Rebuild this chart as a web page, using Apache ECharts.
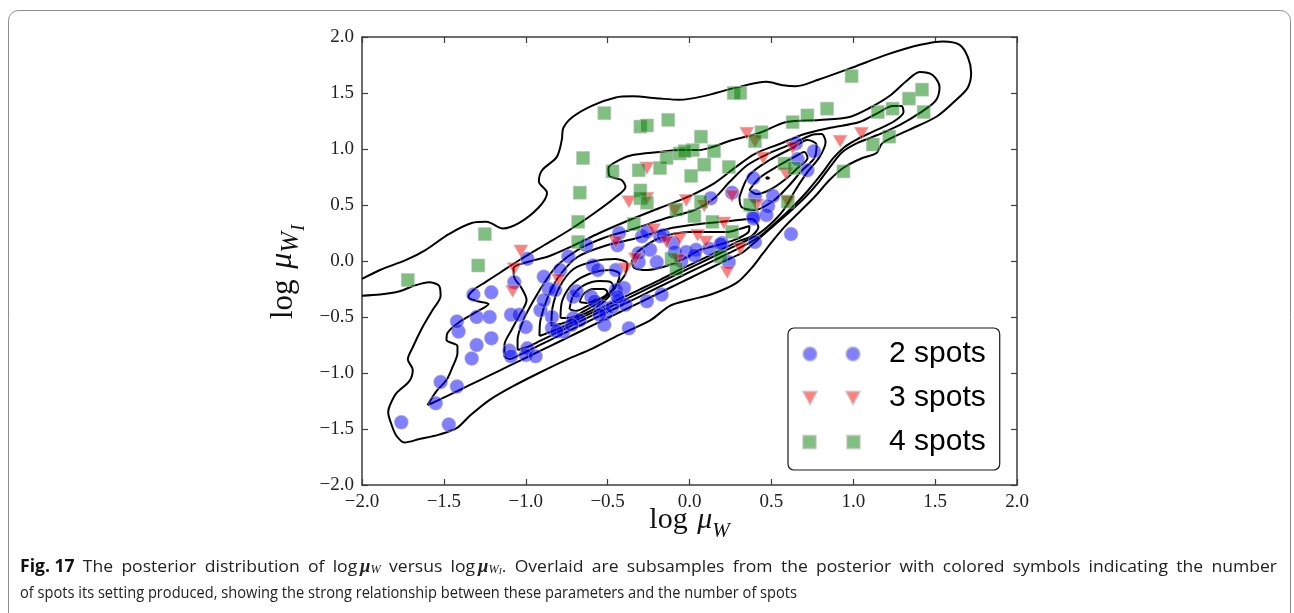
<!DOCTYPE html>
<html>
<head>
<meta charset="utf-8">
<title>Posterior of log mu_W vs log mu_WI</title>
<script src="https://cdn.jsdelivr.net/npm/echarts/dist/echarts.min.js"></script>
<style>
  html, body { margin: 0; padding: 0; background: #fff; }
  #chart { width: 1294px; height: 613px; }
</style>
</head>
<body>
<div id="chart"></div>
<script>
// ---- axis setup ----
const axisMin = -2.0;
const axisMax = 2.0;
const axisStep = 0.5;

// ---- subsamples from the posterior, grouped by number of spots ----
const spots2 = [
  [-1.76,-1.44],[-1.47,-1.46],[-1.55,-1.27],[-1.52,-1.08],[-1.42,-1.12],[-1.33,-0.87],[-1.30,-0.75],
  [-1.21,-0.69],[-1.41,-0.63],[-1.42,-0.54],[-1.30,-0.50],[-1.22,-0.50],[-1.32,-0.30],[-1.21,-0.28],
  [-1.09,-0.48],[-1.04,-0.48],[-1.07,-0.19],[-0.99,0.02],[-1.00,-0.59],[-1.10,-0.80],[-1.09,-0.85],
  [-0.99,-0.78],[-1.00,-0.84],[-0.94,-0.85],[-0.91,-0.44],[-0.86,-0.25],[-0.84,-0.50],[-0.84,-0.60],
  [-0.79,-0.08],[-0.74,0.04],[-0.77,-0.63],[-0.71,-0.32],[-0.69,-0.27],[-0.71,-0.51],[-0.67,-0.53],
  [-0.63,0.14],[-0.59,-0.04],[-0.56,-0.08],[-0.60,-0.32],[-0.58,-0.36],[-0.53,-0.41],[-0.51,-0.47],
  [-0.45,-0.08],[-0.45,-0.26],[-0.43,-0.35],[-0.39,-0.39],[-0.37,-0.60],[-0.44,0.14],[-0.43,0.25],
  [-0.26,-0.36],[-0.17,-0.30],[-0.31,-0.01],[-0.29,0.22],[-0.24,0.10],[-0.18,0.22],[-0.20,-0.01],
  [-0.89,-0.35],[-0.81,-0.63],[-0.72,-0.57],[-0.52,-0.57],[-0.47,-0.41],[-0.55,-0.48],[-0.40,-0.24],
  [-0.44,-0.32],[-0.31,0.07],[-0.26,0.26],[-0.16,0.23],[-0.10,0.16],[-0.09,0.08],[-0.02,0.08],
  [0.04,0.10],[0.12,0.11],[0.20,0.16],[0.24,-0.01],[0.39,0.40],[0.65,1.05],[0.76,0.98],[0.66,0.91],
  [0.72,0.81],[0.39,0.74],[0.51,0.58],[0.40,0.58],[0.48,0.49],[0.47,0.41],[0.39,0.38],[0.26,0.61],
  [0.62,0.24],[0.40,0.17],[0.13,0.56],[0.19,0.15],[-0.89,-0.14],[-0.82,-0.26],[-0.05,0.00],[0.03,0.05]
];
const spots3 = [
  [-1.03,0.09],[-1.07,-0.07],[-1.08,-0.27],[-0.80,-0.17],[-0.39,-0.07],[-0.45,0.17],[-0.37,0.53],
  [-0.26,0.56],[-0.02,0.54],[0.09,0.49],[-0.09,0.45],[0.26,0.58],[-0.22,0.28],[-0.33,0.02],
  [-0.06,0.20],[-0.14,0.17],[0.05,0.23],[0.10,0.17],[0.21,0.34],[0.31,0.11],[0.23,-0.10],
  [-0.07,0.01],[-0.26,0.83],[0.35,1.14],[0.40,1.07],[0.45,0.92],[0.63,1.01],[0.59,0.78],
  [0.41,0.50],[0.60,0.53],[0.92,1.07],[1.05,1.14]
];
const spots4 = [
  [-1.72,-0.17],[-1.29,-0.04],[-1.25,0.24],[-0.68,0.17],[-0.68,0.35],[-0.67,0.61],[-0.65,0.92],
  [-0.52,1.32],[-0.30,1.20],[-0.26,1.21],[-0.13,1.26],[-0.47,0.80],[-0.31,0.81],[-0.18,0.83],
  [-0.14,0.92],[-0.30,0.63],[-0.30,0.56],[-0.34,0.33],[-0.06,0.96],[-0.08,0.46],[0.07,1.11],
  [0.02,0.99],[-0.03,0.98],[0.15,0.98],[0.09,0.86],[0.24,0.84],[0.01,0.76],[0.27,1.50],[0.31,1.50],
  [0.44,1.15],[0.40,1.07],[0.63,1.24],[0.72,1.30],[0.84,1.36],[0.99,1.65],[1.15,1.33],[1.24,1.36],
  [1.34,1.45],[1.42,1.53],[1.43,1.33],[1.22,1.11],[1.12,1.04],[0.94,0.80],[0.58,0.87],[0.64,0.83],
  [0.37,0.50],[0.60,0.53],[0.07,0.53],[0.03,0.40],[0.14,0.35],[0.26,0.26],[0.19,0.04],[-0.11,0.02],
  [-0.08,-0.07],[-0.26,0.52]
];

// ---- density contours of the full posterior ----
// outermost level runs off the left edge, so it stays open
const contourOuter = [
  [-2.0,-0.16],[-1.89,-0.08],[-1.73,0.01],[-1.61,0.10],[-1.47,0.24],[-1.33,0.34],[-1.24,0.35],
  [-1.14,0.29],[-1.04,0.34],[-0.92,0.48],[-0.87,0.61],[-0.92,0.71],[-0.90,0.81],[-0.81,0.93],
  [-0.78,1.08],[-0.77,1.19],[-0.71,1.29],[-0.59,1.39],[-0.45,1.46],[-0.35,1.47],[-0.18,1.45],
  [-0.06,1.44],[0.08,1.47],[0.29,1.55],[0.47,1.60],[0.57,1.57],[0.65,1.56],[0.79,1.62],[1.00,1.73],
  [1.20,1.84],[1.41,1.93],[1.55,1.96],[1.65,1.93],[1.70,1.82],[1.72,1.68],[1.70,1.55],[1.63,1.44],
  [1.51,1.29],[1.34,1.17],[1.179,1.054],[1.142,0.964],[1.056,0.920],[0.947,0.839],[0.855,0.723],
  [0.769,0.580],[0.672,0.438],[0.586,0.313],[0.513,0.188],[0.446,0.063],[0.379,-0.063],
  [0.287,-0.196],[0.140,-0.295],[0.0,-0.348],[-0.12,-0.40],[-0.24,-0.53],[-0.43,-0.66],[-0.59,-0.78],
  [-0.75,-0.88],[-0.92,-1.0],[-1.08,-1.12],[-1.22,-1.24],[-1.34,-1.38],[-1.42,-1.49],[-1.53,-1.55],
  [-1.65,-1.59],[-1.74,-1.62],[-1.79,-1.56],[-1.82,-1.46],[-1.84,-1.35],[-1.83,-1.29],[-1.79,-1.18],
  [-1.71,-1.07],[-1.69,-0.97],[-1.72,-0.88],[-1.69,-0.77],[-1.63,-0.59],[-1.57,-0.44],[-1.52,-0.31],
  [-1.53,-0.22],[-1.59,-0.19],[-1.68,-0.22],[-1.77,-0.27],[-1.89,-0.30],[-2.0,-0.31]
];
const contour2 = [
  [-1.600,-1.286],[-1.545,-1.161],[-1.484,-1.063],[-1.447,-0.946],[-1.417,-0.821],[-1.417,-0.759],
  [-1.484,-0.705],[-1.478,-0.643],[-1.405,-0.545],[-1.301,-0.455],[-1.227,-0.384],[-1.301,-0.357],
  [-1.350,-0.321],[-1.319,-0.259],[-1.246,-0.188],[-1.160,-0.107],[-1.038,0.009],[-0.886,0.143],
  [-0.733,0.277],[-0.580,0.429],[-0.458,0.563],[-0.391,0.661],[-0.415,0.723],[-0.489,0.759],
  [-0.495,0.830],[-0.427,0.902],[-0.348,0.946],[-0.183,0.973],[-0.061,0.991],[0.061,0.991],
  [0.140,1.018],[0.263,1.080],[0.427,1.143],[0.592,1.241],[0.794,1.259],[0.977,1.286],[1.099,1.366],
  [1.221,1.473],[1.325,1.607],[1.405,1.688],[1.484,1.661],[1.527,1.554],[1.502,1.429],[1.405,1.321],
  [1.282,1.214],[1.148,1.125],[1.026,1.054],[0.934,0.973],[0.867,0.857],[0.794,0.714],[0.708,0.571],
  [0.611,0.438],[0.513,0.313],[0.415,0.188],[0.324,0.076],[0.244,0.020],[0.122,-0.067],[0.0,-0.154],
  [-0.122,-0.241],[-0.244,-0.328],[-0.366,-0.414],[-0.489,-0.501],[-0.611,-0.588],[-0.733,-0.675],
  [-0.855,-0.762],[-0.977,-0.848],[-1.099,-0.935],[-1.221,-1.022],[-1.344,-1.109],[-1.466,-1.196],
  [-1.557,-1.259]
];
const contour3 = [
  [-1.130,-0.857],[-1.130,-0.750],[-1.087,-0.616],[-1.038,-0.482],[-0.995,-0.348],[-1.026,-0.241],
  [-1.069,-0.152],[-1.075,-0.063],[-0.989,-0.009],[-0.855,0.045],[-0.714,0.134],[-0.550,0.250],
  [-0.366,0.366],[-0.183,0.473],[0.0,0.580],[0.153,0.696],[0.275,0.830],[0.397,0.955],[0.550,1.045],
  [0.702,1.134],[0.855,1.188],[1.038,1.241],[1.160,1.330],[1.240,1.384],[1.295,1.384],[1.307,1.330],
  [1.252,1.250],[1.130,1.161],[1.026,1.089],[0.947,1.018],[0.879,0.920],[0.806,0.777],[0.721,0.625],
  [0.629,0.482],[0.531,0.348],[0.440,0.232],[0.354,0.152],[0.275,0.095],[0.183,0.029],[0.061,-0.057],
  [-0.061,-0.143],[-0.183,-0.230],[-0.305,-0.318],[-0.427,-0.404],[-0.550,-0.491],[-0.672,-0.578],
  [-0.794,-0.664],[-0.916,-0.752],[-1.038,-0.838],[-1.099,-0.875]
];
const contour4 = [
  [-1.050,-0.795],[-1.050,-0.705],[-1.014,-0.527],[-0.947,-0.339],[-0.879,-0.179],[-0.806,-0.036],
  [-0.684,0.098],[-0.525,0.205],[-0.342,0.286],[-0.159,0.375],[0.031,0.455],[0.153,0.563],
  [0.244,0.705],[0.354,0.857],[0.489,0.964],[0.641,1.054],[0.745,1.125],[0.806,1.134],[0.831,1.063],
  [0.794,0.929],[0.721,0.795],[0.647,0.634],[0.574,0.455],[0.489,0.321],[0.415,0.235],[0.366,0.196],
  [0.244,0.110],[0.061,-0.021],[-0.061,-0.107],[-0.183,-0.195],[-0.305,-0.282],[-0.427,-0.369],
  [-0.550,-0.455],[-0.672,-0.542],[-0.794,-0.629],[-0.916,-0.716],[-0.989,-0.768]
];
const contour5 = [
  [-0.916,-0.670],[-0.910,-0.527],[-0.867,-0.330],[-0.800,-0.143],[-0.684,0.036],[-0.501,0.143],
  [-0.318,0.205],[-0.134,0.286],[0.061,0.330],[0.244,0.357],[0.379,0.375],[0.421,0.304],[0.379,0.223],
  [0.305,0.179],[0.183,0.092],[0.061,0.005],[-0.061,-0.080],[-0.183,-0.170],[-0.305,-0.255],
  [-0.427,-0.339],[-0.550,-0.429],[-0.672,-0.515],[-0.794,-0.602],[-0.867,-0.643]
];
const contourLow6 = [
  [-0.843,-0.580],[-0.837,-0.420],[-0.794,-0.232],[-0.708,-0.071],[-0.574,0.0],[-0.452,0.018],
  [-0.379,-0.027],[-0.391,-0.116],[-0.446,-0.223],[-0.501,-0.330],[-0.574,-0.420],[-0.672,-0.491],
  [-0.769,-0.554]
];
const contourLow7 = [
  [-0.788,-0.509],[-0.776,-0.348],[-0.708,-0.196],[-0.598,-0.107],[-0.489,-0.080],[-0.427,-0.116],
  [-0.440,-0.196],[-0.489,-0.286],[-0.550,-0.366],[-0.641,-0.446],[-0.733,-0.509]
];
const contourLow8 = [
  [-0.733,-0.429],[-0.708,-0.304],[-0.641,-0.214],[-0.550,-0.179],[-0.482,-0.188],[-0.464,-0.241],
  [-0.501,-0.304],[-0.550,-0.348],[-0.623,-0.402],[-0.696,-0.446]
];
const contourLow9 = [
  [-0.672,-0.366],[-0.647,-0.295],[-0.586,-0.250],[-0.525,-0.250],[-0.501,-0.277],[-0.525,-0.321],
  [-0.574,-0.348],[-0.623,-0.375]
];
const contourMid6 = [
  [-0.354,-0.009],[-0.318,0.080],[-0.183,0.205],[0.0,0.259],[0.226,0.259],[0.305,0.286],[0.366,0.313],
  [0.360,0.259],[0.275,0.188],[0.153,0.134],[0.061,0.098],[-0.012,0.036],[-0.122,-0.036],
  [-0.256,-0.080],[-0.336,-0.063]
];
const contourHigh5 = [
  [0.305,0.571],[0.366,0.768],[0.489,0.902],[0.629,1.009],[0.721,1.080],[0.776,1.036],[0.763,0.920],
  [0.690,0.813],[0.611,0.679],[0.519,0.545],[0.397,0.455],[0.318,0.482]
];
const contourHigh6 = [
  [0.366,0.634],[0.427,0.741],[0.519,0.830],[0.641,0.929],[0.702,0.973],[0.721,0.920],[0.660,0.830],
  [0.580,0.723],[0.489,0.634],[0.409,0.598]
];
const contourPeak = [[0.466,0.741],[0.476,0.748],[0.486,0.741],[0.476,0.734]];

const closedContours = [contour2, contour3, contour4, contour5, contourLow6, contourLow7, contourLow8,
                        contourLow9, contourMid6, contourHigh5, contourHigh6, contourPeak];

// ---- text ----
const seriesNames = ['2 spots', '3 spots', '4 spots'];
const captionLine1 = '{b|Fig.\u00a017} The posterior distribution of log\u2009{m|\u03bc}{s|W} versus log\u2009{m|\u03bc}{s|W}{t|I}. Overlaid are subsamples from the posterior with colored symbols indicating the number';
const captionLine2 = 'of spots its setting produced, showing the strong relationship between these parameters and the number of spots';

const serif = '"Liberation Serif", "DejaVu Serif", serif';
const sans = '"Liberation Sans", Arial, sans-serif';
const tickFmt = v => (v < 0 ? '\u2212' : '') + Math.abs(v).toFixed(1);

// ---- caption: a regular sans squeezed to the narrow face; the first line is justified ----
const captionFont = '"Open Sans", "Noto Sans", sans-serif';
const capLeft = 20, capRight = 1277, capWidthLast = 777;
const firstLineStretch = 1.2;   // justified line: glyphs widen a little, spaces take the rest
const capFonts = {
  n: '17px "Open Sans"',
  b: 'bold 17px "Open Sans"',
  m: 'italic bold 18px "Liberation Serif"',
  s: 'italic 12px "Liberation Serif"',
  t: 'italic 9px "Liberation Serif"'
};
const capRich = {
  b: { fontFamily: captionFont, fontSize: 17, fontWeight: 'bold', fill: '#111' },
  m: { fontFamily: serif, fontSize: 18, fontStyle: 'italic', fontWeight: 'bold', fill: '#222' },
  s: { fontFamily: serif, fontSize: 12, fontStyle: 'italic', fill: '#222', padding: [6, 0, 0, 0] },
  t: { fontFamily: serif, fontSize: 9, fontStyle: 'italic', fill: '#222', padding: [10, 0, 0, 0] }
};
const measureCtx = document.createElement('canvas').getContext('2d');
function measureRich(token) {
  let w = 0;
  const re = /\{(\w+)\|([^}]*)\}|([^{]+)/g;
  let m;
  while ((m = re.exec(token)) !== null) {
    if (m[1]) { measureCtx.font = capFonts[m[1]]; w += measureCtx.measureText(m[2]).width; }
    else { measureCtx.font = capFonts.n; w += measureCtx.measureText(m[3]).width; }
  }
  return w;
}
measureCtx.font = capFonts.n;
const captionScale = capWidthLast / measureCtx.measureText(captionLine2).width;

const captionGraphics = [];
(function () {
  const s1 = captionScale * firstLineStretch;
  const words = captionLine1.split(' ');
  const widths = words.map(w => measureRich(w) * s1);
  const total = widths.reduce((a, b) => a + b, 0);
  const gap = (capRight - capLeft - total) / (words.length - 1);
  let x = capLeft;
  words.forEach((w, i) => {
    captionGraphics.push({
      type: 'text', x: x, y: 567, scaleX: s1, silent: true,
      style: { text: w, fontFamily: captionFont, fontSize: 17, fill: '#222', verticalAlign: 'middle', rich: capRich }
    });
    x += widths[i] + gap;
  });
})();
captionGraphics.push({
  type: 'text', x: capLeft, y: 593, scaleX: captionScale, silent: true,
  style: { text: captionLine2, fontFamily: captionFont, fontSize: 17, fill: '#222', verticalAlign: 'middle' }
});

const frameColor = '#3d3d3d';
const baseAxis = {
  type: 'value', min: axisMin, max: axisMax, interval: axisStep,
  axisLine: { show: true, onZero: false, lineStyle: { color: frameColor, width: 1.5 } },
  axisTick: { show: true, inside: true, length: 6, lineStyle: { color: frameColor, width: 1.2 } },
  splitLine: { show: false }
};
const labelStyle = { formatter: tickFmt, fontFamily: serif, fontSize: 19, color: '#222' };

const contourSeries = [];
contourSeries.push({
  type: 'line', data: contourOuter, showSymbol: false, symbol: 'none', smooth: 0.3,
  lineStyle: { color: '#000', width: 2 }, silent: true, z: 1, clip: true
});
closedContours.forEach(c => {
  contourSeries.push({
    type: 'line', data: c.concat([c[0]]), showSymbol: false, symbol: 'none', smooth: 0.3,
    lineStyle: { color: '#000', width: 2 }, silent: true, z: 1, clip: true
  });
});

const markerEdge = 'rgba(190,190,190,0.55)';
const option = {
  animation: false,
  backgroundColor: '#fff',
  grid: { left: 362, top: 37, width: 655, height: 448, containLabel: false },
  xAxis: [
    Object.assign({}, baseAxis, {
      position: 'bottom',
      axisLabel: Object.assign({ margin: 8 }, labelStyle),
      name: '{a|log }{m|\u03bc}{s|W}',
      nameLocation: 'middle', nameGap: 20, nameMoveOverlap: false,
      nameTextStyle: {
        rich: {
          a: { fontFamily: serif, fontSize: 30, color: '#111', verticalAlign: 'bottom', padding: [0, 2, 7, 0] },
          m: { fontFamily: serif, fontStyle: 'italic', fontSize: 30, color: '#111', verticalAlign: 'bottom', padding: [0, 0, 7, 0] },
          s: { fontFamily: serif, fontStyle: 'italic', fontSize: 21, color: '#111', verticalAlign: 'bottom' }
        }
      }
    }),
    Object.assign({}, baseAxis, { position: 'top', axisLabel: { show: false } })
  ],
  yAxis: [
    Object.assign({}, baseAxis, {
      position: 'left',
      axisLabel: Object.assign({ margin: 8 }, labelStyle),
      name: '{a|log }{m|\u03bc}{s|W}{t|I}',
      nameLocation: 'middle', nameGap: 54,
      nameTextStyle: {
        rich: {
          a: { fontFamily: serif, fontSize: 31, color: '#111', verticalAlign: 'bottom', padding: [0, 3, 9, 0] },
          m: { fontFamily: serif, fontStyle: 'italic', fontSize: 32, color: '#111', verticalAlign: 'bottom', padding: [0, 0, 9, 0] },
          s: { fontFamily: serif, fontStyle: 'italic', fontSize: 25, color: '#111', verticalAlign: 'bottom', padding: [0, 0, 4, 0] },
          t: { fontFamily: serif, fontStyle: 'italic', fontSize: 18, color: '#111', verticalAlign: 'bottom', padding: [0, 22, 0, 1] }
        }
      }
    }),
    Object.assign({}, baseAxis, { position: 'right', axisLabel: { show: false } })
  ],
  legend: {
    orient: 'vertical', left: 788, top: 328,
    padding: [11, 14, 13, 14], itemGap: 14, itemWidth: 57, itemHeight: 14,
    borderColor: '#1a1a1a', borderWidth: 1.2, borderRadius: 6, backgroundColor: '#fff',
    selectedMode: false,
    textStyle: { fontFamily: sans, fontSize: 30, color: '#000', lineHeight: 30, padding: [0, 0, 0, 24] },
    data: [
      { name: seriesNames[0], icon: 'path://M0,7A7,7 0 1 1 14,7A7,7 0 1 1 0,7Z M43,7A7,7 0 1 1 57,7A7,7 0 1 1 43,7Z' },
      { name: seriesNames[1], icon: 'path://M0,0L14,0L7,13Z M43,0L57,0L50,13Z' },
      { name: seriesNames[2], icon: 'path://M0,0H13V13H0Z M44,0H57V13H44Z' }
    ]
  },
  graphic: [
    {
      type: 'rect', silent: true, z: -10,
      shape: { x: 8.5, y: 10.5, width: 1282, height: 700, r: 10 },
      style: { fill: '#fff', stroke: '#8c8c8c', lineWidth: 1 }
    }
  ].concat(captionGraphics),
  series: contourSeries.concat([
    {
      name: seriesNames[0], type: 'scatter', data: spots2, symbol: 'circle', symbolSize: 14, z: 3,
      itemStyle: { color: 'rgba(0,0,255,0.5)', borderColor: markerEdge, borderWidth: 1, opacity: 1 }
    },
    {
      name: seriesNames[1], type: 'scatter', data: spots3, symbol: 'triangle', symbolSize: [14, 12],
      symbolRotate: 180, z: 3,
      itemStyle: { color: 'rgba(255,0,0,0.5)', borderColor: markerEdge, borderWidth: 1, opacity: 1 }
    },
    {
      name: seriesNames[2], type: 'scatter', data: spots4, symbol: 'rect', symbolSize: 13, z: 3,
      itemStyle: { color: 'rgba(0,128,0,0.5)', borderColor: markerEdge, borderWidth: 1, opacity: 1 }
    }
  ])
};

const chart = echarts.init(document.getElementById('chart'), null, { renderer: 'canvas' });
chart.setOption(option);
</script>
</body>
</html>
